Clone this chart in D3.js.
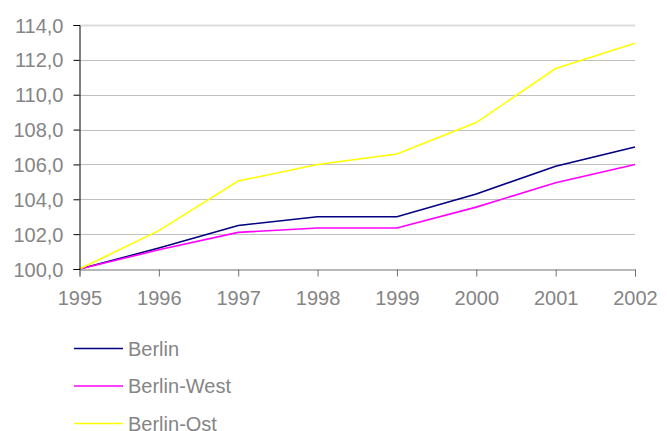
<!DOCTYPE html>
<html>
<head>
<meta charset="utf-8">
<script src="https://cdn.jsdelivr.net/npm/d3@7"></script>
<style>
body{margin:0;background:#fff}
text{font-family:"Liberation Sans",Arial,sans-serif;fill:#858585}
</style>
</head>
<body>
<svg id="chart"></svg>
<script>
var years=[1995,1996,1997,1998,1999,2000,2001,2002]
var berlin=[100.0,101.2,102.5,103.0,103.0,104.3,105.9,107.0]
var berlinWest=[100.0,101.1,102.1,102.35,102.35,103.55,104.95,106.0]
var berlinOst=[100.0,102.2,105.05,106.0,106.6,108.4,111.5,112.95]
var yTicks=[100,102,104,106,108,110,112,114]
var seriesNames=["Berlin","Berlin-West","Berlin-Ost"]
var seriesColors=["#000080","#ff00ff","#ffff00"]

var screen={width:667,height:431}
var margins={left:79.5,right:32,top:25,bottom:162}
var graph={
    width:screen.width-margins.left-margins.right,
    height:screen.height-margins.top-margins.bottom
}

var svg=d3.select("#chart")
    .attr("width",screen.width)
    .attr("height",screen.height)

var xScale=d3.scaleLinear()
    .domain([1995,2002])
    .range([margins.left,margins.left+graph.width])
var yScale=d3.scaleLinear()
    .domain([100,114])
    .range([margins.top+graph.height,margins.top])

//gridlines
svg.append("g")
    .selectAll("line")
    .data(yTicks.slice(1))
    .enter()
    .append("line")
    .attr("x1",margins.left)
    .attr("x2",margins.left+graph.width)
    .attr("y1",function(d){return Math.round(yScale(d))+0.5})
    .attr("y2",function(d){return Math.round(yScale(d))+0.5})
    .attr("stroke",function(d){return d==114?"#dcdcdc":"#c0c0c0"})
    .attr("stroke-width",function(d){return d==114?2:1})

//lines
var lineGenerator=d3.line()
    .x(function(v,i){return xScale(years[i])})
    .y(function(v){return yScale(v)})

var allSeries=[berlin,berlinWest,berlinOst]
svg.append("g")
    .selectAll("path")
    .data(allSeries)
    .enter()
    .append("path")
    .attr("d",lineGenerator)
    .attr("fill","none")
    .attr("stroke",function(d,i){return seriesColors[i]})
    .attr("stroke-width",1.6)

//axes
var fmt=function(d){return d3.format(".1f")(d).replace(".",",")}
var yAxis=d3.axisLeft(yScale)
    .tickValues(yTicks)
    .tickFormat(fmt)
    .tickSize(6)
    .tickPadding(10)
var xAxis=d3.axisBottom(xScale)
    .tickValues(years)
    .tickFormat(d3.format("d"))
    .tickSize(7)
    .tickPadding(14)

var gx=svg.append("g")
    .attr("transform","translate(0,"+(Math.round(margins.top+graph.height)+0.5)+")")
    .call(xAxis)
gx.selectAll("path,line").attr("stroke","#707070")
gx.selectAll("text").style("font-size","20px").attr("fill","#858585")

var gy=svg.append("g")
    .attr("transform","translate("+margins.left+",0)")
    .call(yAxis)
gy.select("path").attr("stroke","#000")
gy.selectAll("line").attr("stroke","#000")
gy.selectAll("text").style("font-size","20px").attr("fill","#858585").attr("dy","0.35em")

//legend
var legend=svg.append("g")
    .selectAll("g")
    .data(seriesNames)
    .enter()
    .append("g")
    .attr("transform",function(d,i){return "translate(74,"+(348.5+i*37.5)+")"})
legend.append("line")
    .attr("x1",0)
    .attr("x2",49)
    .attr("stroke",function(d,i){return seriesColors[i]})
    .attr("stroke-width",1.6)
legend.append("text")
    .text(function(d){return d})
    .attr("x",54)
    .attr("dy","0.35em")
    .style("font-size","20px")
</script>
</body>
</html>
